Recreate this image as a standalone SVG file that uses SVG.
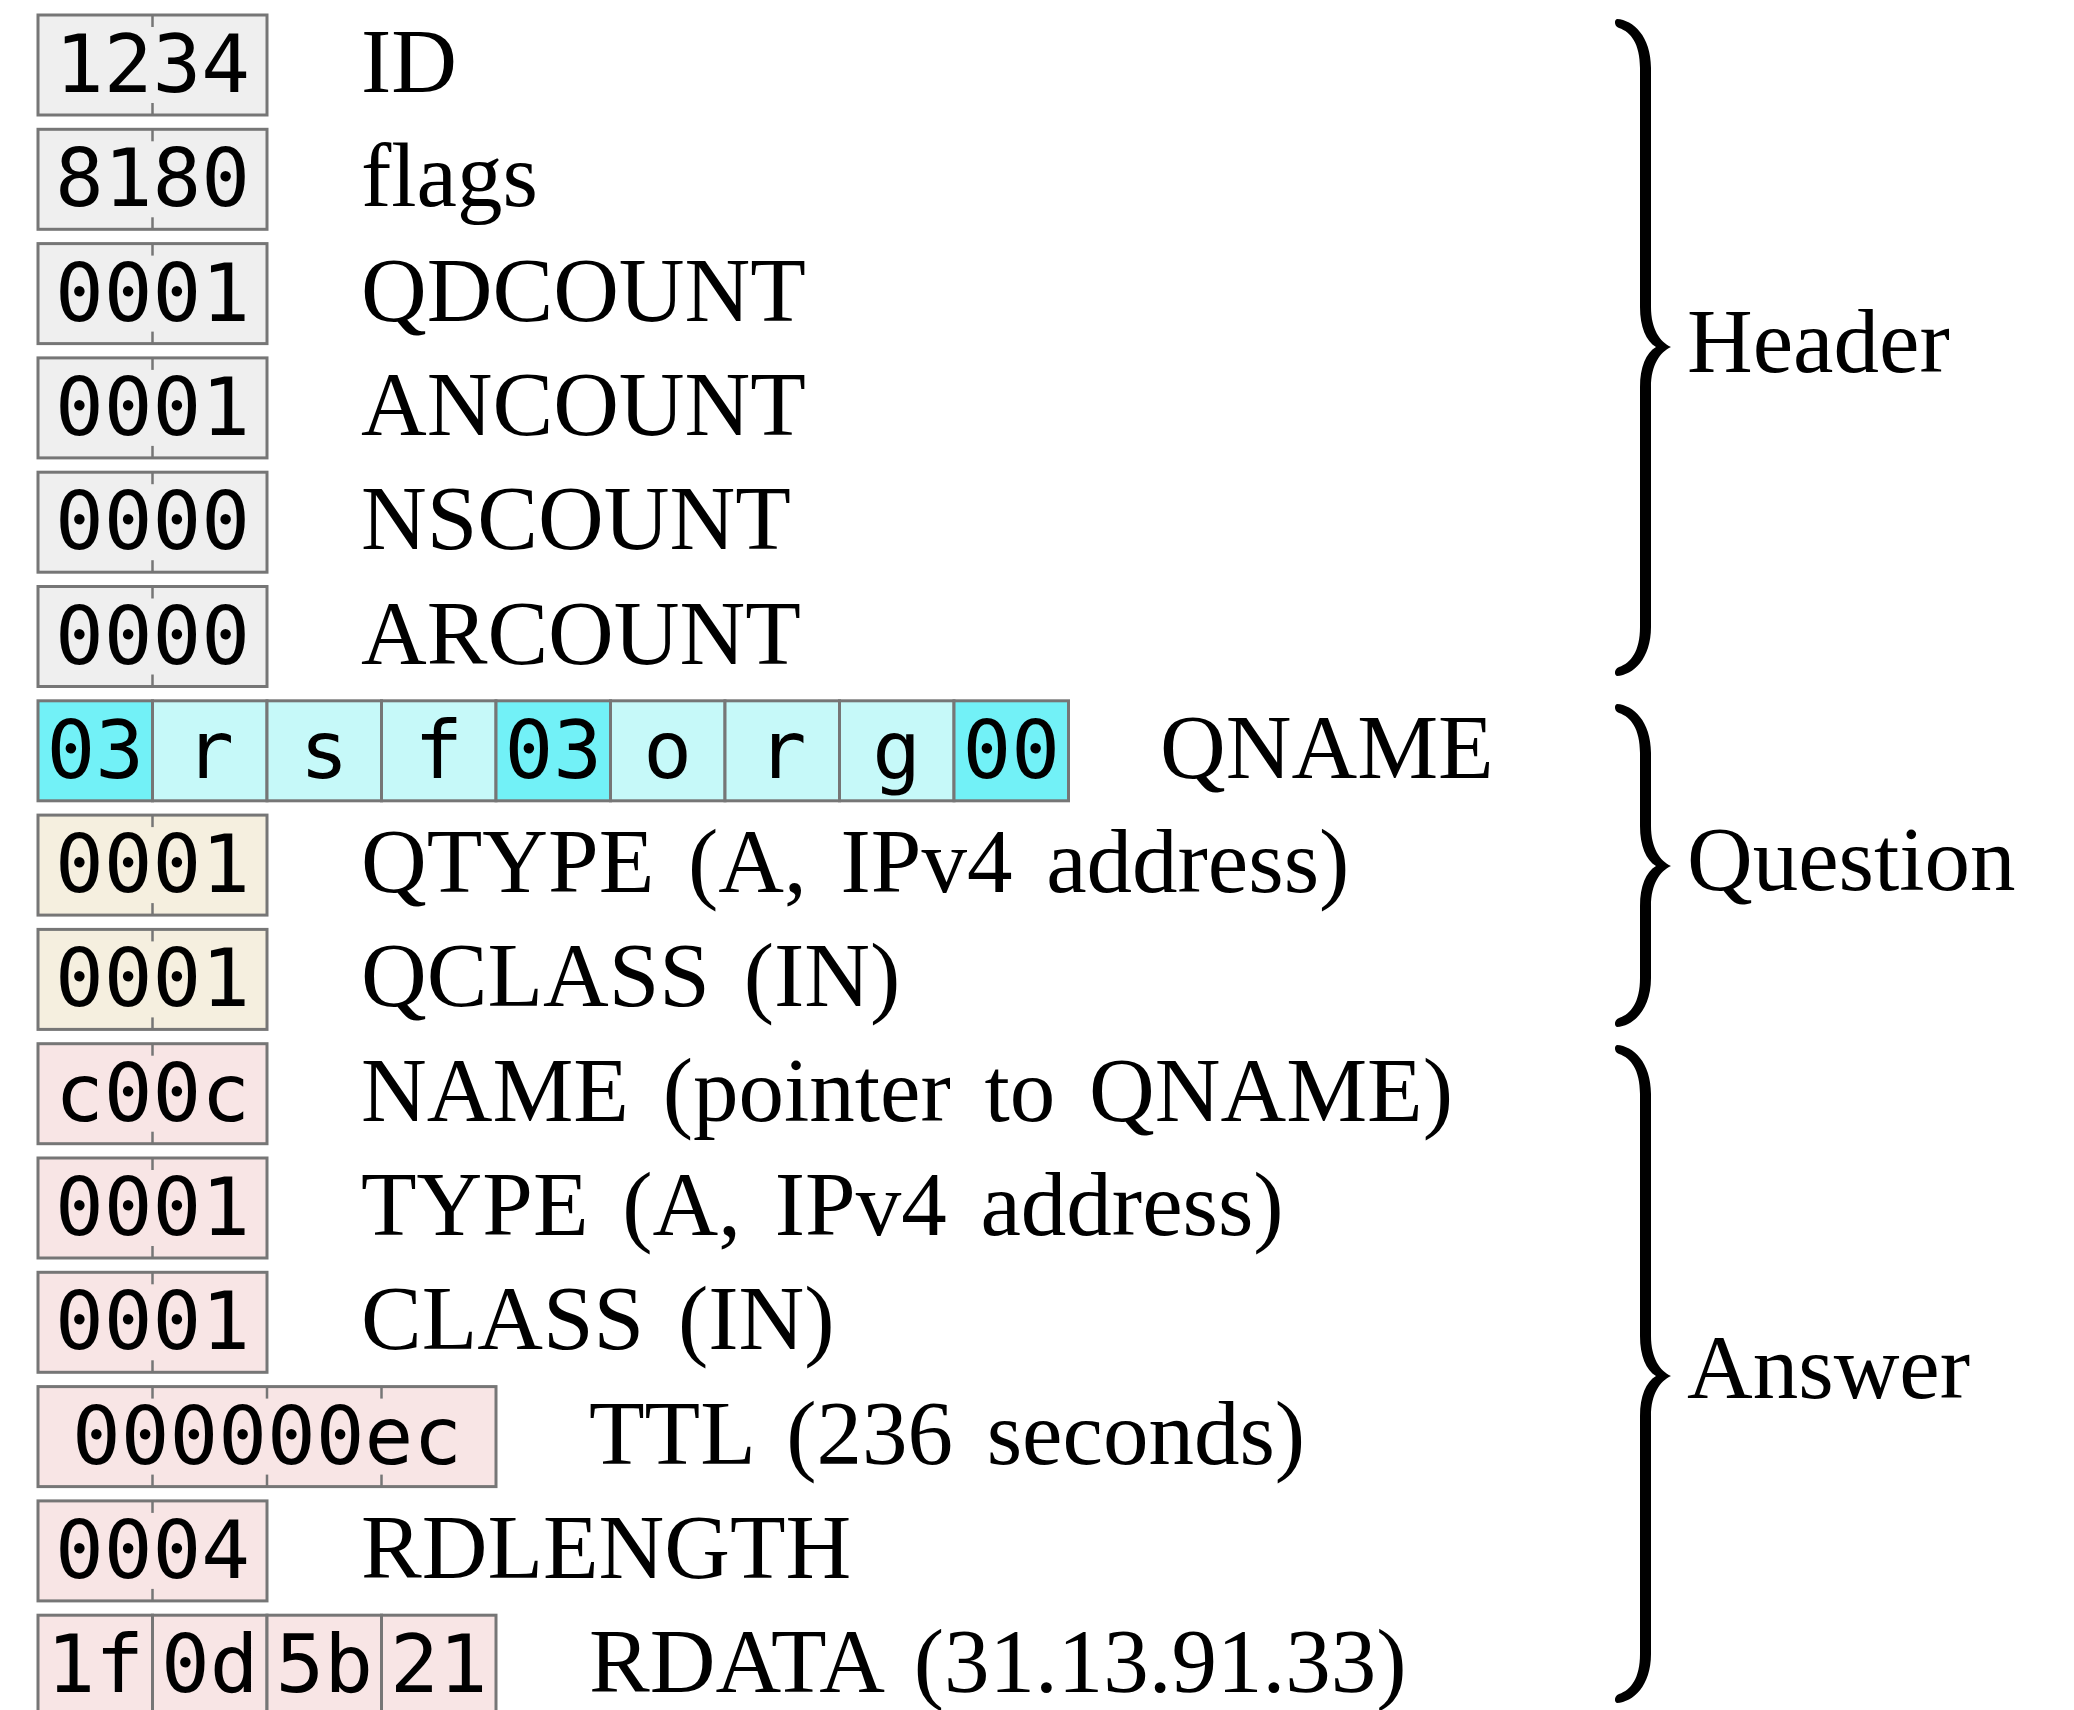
<svg xmlns="http://www.w3.org/2000/svg" width="2074" height="1710" viewBox="0 0 2074 1710">
  <style>
    .box { stroke: #767676; stroke-width: 3; }
    .tick { stroke: #767676; stroke-width: 2.5; }
    .hdr { fill: #efefef; }
    .len { fill: #72f1f7; }
    .chr { fill: #c6f9f9; }
    .qst { fill: #f5efdf; }
    .ans { fill: #f8e5e5; }
    .hex { font-family: "DejaVu Sans Mono", "Liberation Mono", monospace; font-size: 81px; fill: #000; text-anchor: middle; }
    .lbl { font-family: "Liberation Serif", "Times New Roman", serif; font-size: 91px; fill: #000; word-spacing: 11px; }
    .sec { font-family: "Liberation Serif", "Times New Roman", serif; font-size: 91px; fill: #000; }
    .brace { fill: #000; }
  </style>
  <defs>
    <!-- byte-boundary ticks on a two-byte field -->
    <g id="tick2">
      <line class="tick" x1="152.5" y1="2" x2="152.5" y2="14"/>
      <line class="tick" x1="152.5" y1="90" x2="152.5" y2="102"/>
    </g>
  </defs>
  <rect width="2074" height="1710" fill="#fff"/>

  <!-- Header section -->
  <g id="row-id" transform="translate(0,13)">
    <rect class="box hdr" x="38" y="2" width="229" height="100"/>
    <use href="#tick2"/>
    <text class="hex" x="152.5" y="79">1234</text>
    <text class="lbl" x="361" y="79">ID</text>
  </g>
  <g id="row-flags" transform="translate(0,127.3)">
    <rect class="box hdr" x="38" y="2" width="229" height="100"/>
    <use href="#tick2"/>
    <text class="hex" x="152.5" y="79">8180</text>
    <text class="lbl" x="361" y="79">flags</text>
  </g>
  <g id="row-qdcount" transform="translate(0,241.6)">
    <rect class="box hdr" x="38" y="2" width="229" height="100"/>
    <use href="#tick2"/>
    <text class="hex" x="152.5" y="79">0001</text>
    <text class="lbl" x="361" y="79">QDCOUNT</text>
  </g>
  <g id="row-ancount" transform="translate(0,355.9)">
    <rect class="box hdr" x="38" y="2" width="229" height="100"/>
    <use href="#tick2"/>
    <text class="hex" x="152.5" y="79">0001</text>
    <text class="lbl" x="361" y="79">ANCOUNT</text>
  </g>
  <g id="row-nscount" transform="translate(0,470.2)">
    <rect class="box hdr" x="38" y="2" width="229" height="100"/>
    <use href="#tick2"/>
    <text class="hex" x="152.5" y="79">0000</text>
    <text class="lbl" x="361" y="79">NSCOUNT</text>
  </g>
  <g id="row-arcount" transform="translate(0,584.5)">
    <rect class="box hdr" x="38" y="2" width="229" height="100"/>
    <use href="#tick2"/>
    <text class="hex" x="152.5" y="79">0000</text>
    <text class="lbl" x="361" y="79">ARCOUNT</text>
  </g>

  <!-- Question section -->
  <g id="row-qname" transform="translate(0,698.8)">
    <rect class="box len" x="38" y="2" width="114.5" height="100"/>
    <rect class="box chr" x="152.5" y="2" width="114.5" height="100"/>
    <rect class="box chr" x="267" y="2" width="114.5" height="100"/>
    <rect class="box chr" x="381.5" y="2" width="114.5" height="100"/>
    <rect class="box len" x="496" y="2" width="114.5" height="100"/>
    <rect class="box chr" x="610.5" y="2" width="114.5" height="100"/>
    <rect class="box chr" x="725" y="2" width="114.5" height="100"/>
    <rect class="box chr" x="839.5" y="2" width="114.5" height="100"/>
    <rect class="box len" x="954" y="2" width="114.5" height="100"/>
    <text class="hex" x="95.25" y="79">03</text>
    <text class="hex" x="209.75" y="79">r</text>
    <text class="hex" x="324.25" y="79">s</text>
    <text class="hex" x="438.75" y="79">f</text>
    <text class="hex" x="553.25" y="79">03</text>
    <text class="hex" x="667.75" y="79">o</text>
    <text class="hex" x="782.25" y="79">r</text>
    <text class="hex" x="896.75" y="79">g</text>
    <text class="hex" x="1011.25" y="79">00</text>
    <text class="lbl" x="1160" y="79">QNAME</text>
  </g>
  <g id="row-qtype" transform="translate(0,813.1)">
    <rect class="box qst" x="38" y="2" width="229" height="100"/>
    <use href="#tick2"/>
    <text class="hex" x="152.5" y="79">0001</text>
    <text class="lbl" x="361" y="79">QTYPE (A, IPv4 address)</text>
  </g>
  <g id="row-qclass" transform="translate(0,927.4)">
    <rect class="box qst" x="38" y="2" width="229" height="100"/>
    <use href="#tick2"/>
    <text class="hex" x="152.5" y="79">0001</text>
    <text class="lbl" x="361" y="79">QCLASS (IN)</text>
  </g>

  <!-- Answer section -->
  <g id="row-name" transform="translate(0,1041.7)">
    <rect class="box ans" x="38" y="2" width="229" height="100"/>
    <use href="#tick2"/>
    <text class="hex" x="152.5" y="79">c00c</text>
    <text class="lbl" x="361" y="79">NAME (pointer to QNAME)</text>
  </g>
  <g id="row-type" transform="translate(0,1156)">
    <rect class="box ans" x="38" y="2" width="229" height="100"/>
    <use href="#tick2"/>
    <text class="hex" x="152.5" y="79">0001</text>
    <text class="lbl" x="361" y="79">TYPE (A, IPv4 address)</text>
  </g>
  <g id="row-class" transform="translate(0,1270.3)">
    <rect class="box ans" x="38" y="2" width="229" height="100"/>
    <use href="#tick2"/>
    <text class="hex" x="152.5" y="79">0001</text>
    <text class="lbl" x="361" y="79">CLASS (IN)</text>
  </g>
  <g id="row-ttl" transform="translate(0,1384.6)">
    <rect class="box ans" x="38" y="2" width="458" height="100"/>
    <use href="#tick2"/>
    <use href="#tick2" x="114.5"/>
    <use href="#tick2" x="229"/>
    <text class="hex" x="267" y="79">000000ec</text>
    <text class="lbl" x="589" y="79">TTL (236 seconds)</text>
  </g>
  <g id="row-rdlength" transform="translate(0,1498.9)">
    <rect class="box ans" x="38" y="2" width="229" height="100"/>
    <use href="#tick2"/>
    <text class="hex" x="152.5" y="79">0004</text>
    <text class="lbl" x="361" y="79">RDLENGTH</text>
  </g>
  <g id="row-rdata" transform="translate(0,1613.2)">
    <rect class="box ans" x="38" y="2" width="114.5" height="100"/>
    <rect class="box ans" x="152.5" y="2" width="114.5" height="100"/>
    <rect class="box ans" x="267" y="2" width="114.5" height="100"/>
    <rect class="box ans" x="381.5" y="2" width="114.5" height="100"/>
    <text class="hex" x="95.25" y="79">1f</text>
    <text class="hex" x="209.75" y="79">0d</text>
    <text class="hex" x="324.25" y="79">5b</text>
    <text class="hex" x="438.75" y="79">21</text>
    <text class="lbl" x="589" y="79">RDATA (31.13.91.33)</text>
  </g>

  <!-- Section braces -->
  <g id="braces">
    <g id="brace-header">
      <path class="brace" d="M1617,19 C1633,20 1651,36 1651,68 L1651,307 C1651,329 1660,342 1671,347 C1660,352 1651,365 1651,387 L1651,627 C1651,659 1633,675 1617,676 C1614,675 1614,669 1619,667 C1631,663 1640,651 1640,627 L1640,387 C1640,367 1646,353 1656,347 C1646,341 1640,327 1640,307 L1640,68 C1640,44 1631,32 1619,28 C1614,26 1614,20 1617,19 Z"/>
      <text class="sec" x="1687" y="372">Header</text>
    </g>
    <g id="brace-question">
      <path class="brace" d="M1617,704 C1633,705 1651,721 1651,753 L1651,826 C1651,848 1660,861 1671,866 C1660,871 1651,884 1651,906 L1651,978 C1651,1010 1633,1026 1617,1027 C1614,1026 1614,1020 1619,1018 C1631,1014 1640,1002 1640,978 L1640,906 C1640,886 1646,872 1656,866 C1646,860 1640,846 1640,826 L1640,753 C1640,729 1631,717 1619,713 C1614,711 1614,705 1617,704 Z"/>
      <text class="sec" x="1687" y="890">Question</text>
    </g>
    <g id="brace-answer">
      <path class="brace" d="M1617,1045 C1633,1046 1651,1062 1651,1094 L1651,1336 C1651,1358 1660,1371 1671,1376 C1660,1381 1651,1394 1651,1416 L1651,1654 C1651,1686 1633,1702 1617,1703 C1614,1702 1614,1696 1619,1694 C1631,1690 1640,1678 1640,1654 L1640,1416 C1640,1396 1646,1382 1656,1376 C1646,1370 1640,1356 1640,1336 L1640,1094 C1640,1070 1631,1058 1619,1054 C1614,1052 1614,1046 1617,1045 Z"/>
      <text class="sec" x="1687" y="1398">Answer</text>
    </g>
  </g>
</svg>
